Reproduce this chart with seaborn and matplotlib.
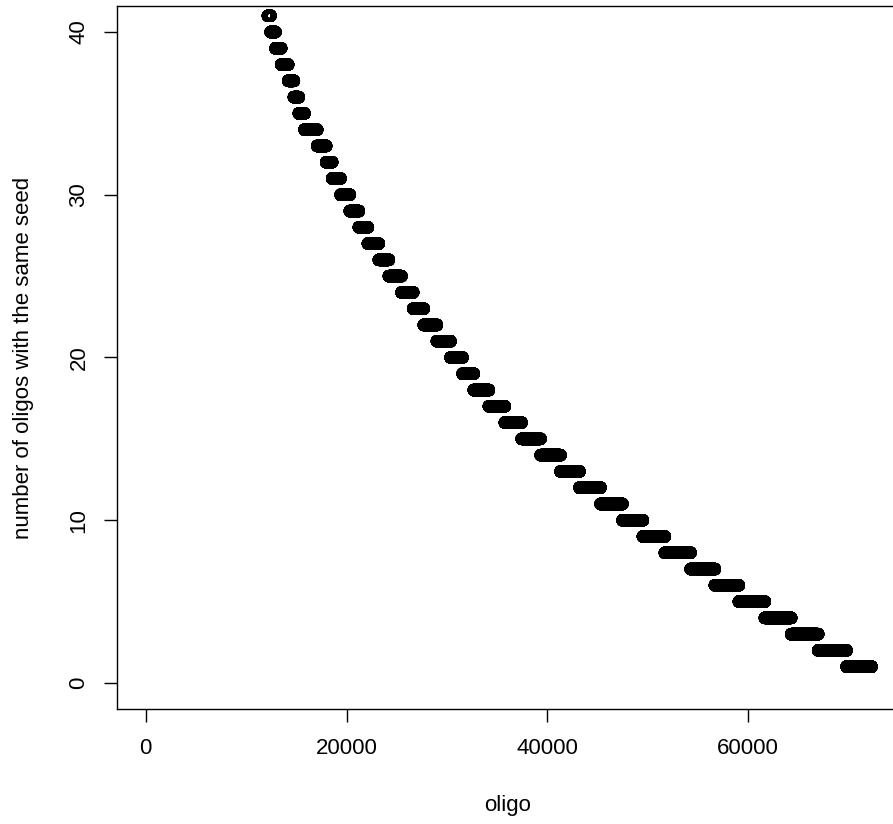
import numpy as np
import pandas as pd
import matplotlib
matplotlib.use("Agg")
import matplotlib.pyplot as plt
import seaborn as sns

# ---- data ----
levels = [41, 40, 39, 38, 37, 36, 35, 34, 33, 32, 31, 30, 29, 28, 27, 26, 25, 24, 23, 22, 21,
          20, 19, 18, 17, 16, 15, 14, 13, 12, 11, 10, 9, 8, 7, 6, 5, 4, 3, 2, 1]
level_end = [12435, 12930, 13490, 14190, 14760, 15250, 15820, 17080, 17970, 18570, 19410,
             20330, 21230, 22130, 23220, 24220, 25480, 26640, 27700, 29000, 30360,
             31560, 32680, 34180, 35770, 37440, 39330, 41320, 43210, 45300, 47490,
             49520, 51710, 54270, 56690, 59080, 61670, 64290, 66980, 69810, 72300]
first_oligo = 12170
x_ticks = [0, 20000, 40000, 60000]
y_ticks = [0, 10, 20, 30, 40]
x_label = "oligo"
y_label = "number of oligos with the same seed"

# expand each level into the oligo indices it covers
xs, ys = [], []
start = first_oligo
for lv, end in zip(levels, level_end):
    idx = np.arange(start, end + 1)
    xs.append(idx)
    ys.append(np.full(idx.shape, lv))
    start = end + 1
df = pd.DataFrame({"oligo": np.concatenate(xs), "count": np.concatenate(ys)})

sns.set_style("white")
plt.rcParams["font.family"] = ["Liberation Sans", "DejaVu Sans"]
plt.rcParams["text.color"] = "black"
plt.rcParams["axes.labelcolor"] = "black"

W, H = 893, 824
fig = plt.figure(figsize=(W / 100, H / 100), dpi=100)
ax_left_px, ax_top_px, ax_bottom_px = 116.7, 6.0, 709.0
xlim = (-2890, 75300)
ax_w_px = 785.0
ax = fig.add_axes([ax_left_px / W, 1 - ax_bottom_px / H, ax_w_px / W, (ax_bottom_px - ax_top_px) / H])

sns.scatterplot(data=df, x="oligo", y="count", ax=ax, marker="o", s=42,
                facecolors="none", edgecolor="black", linewidth=2.4, legend=False)

ax.set_xlim(*xlim)
ax.set_ylim(-1.6, 41.6)
ax.set_xticks(x_ticks)
ax.set_yticks(y_ticks)
ax.set_xticklabels([str(t) for t in x_ticks])
ax.set_yticklabels([str(t) for t in y_ticks])
for lab in ax.get_yticklabels():
    lab.set_rotation(90)
    lab.set_va("center")
ax.tick_params(axis="both", direction="out", length=9.6, width=1, color="black",
               labelsize=16, labelcolor="black", bottom=True, left=True)
ax.tick_params(axis="x", pad=11)
ax.tick_params(axis="y", pad=10)
for sp in ax.spines.values():
    sp.set_color("black")
    sp.set_linewidth(1)
    sp.set_visible(True)
ax.set_facecolor("white")
ax.grid(False)

ax.set_xlabel(x_label, fontsize=16, color="black")
ax.set_ylabel(y_label, fontsize=16, color="black")
ax.xaxis.set_label_coords((508 - ax_left_px) / ax_w_px, (ax_bottom_px - 795) / (ax_bottom_px - ax_top_px))
ax.yaxis.set_label_coords((34 - ax_left_px) / ax_w_px, 0.5)

fig.savefig("out.png", dpi=100, facecolor="white")
